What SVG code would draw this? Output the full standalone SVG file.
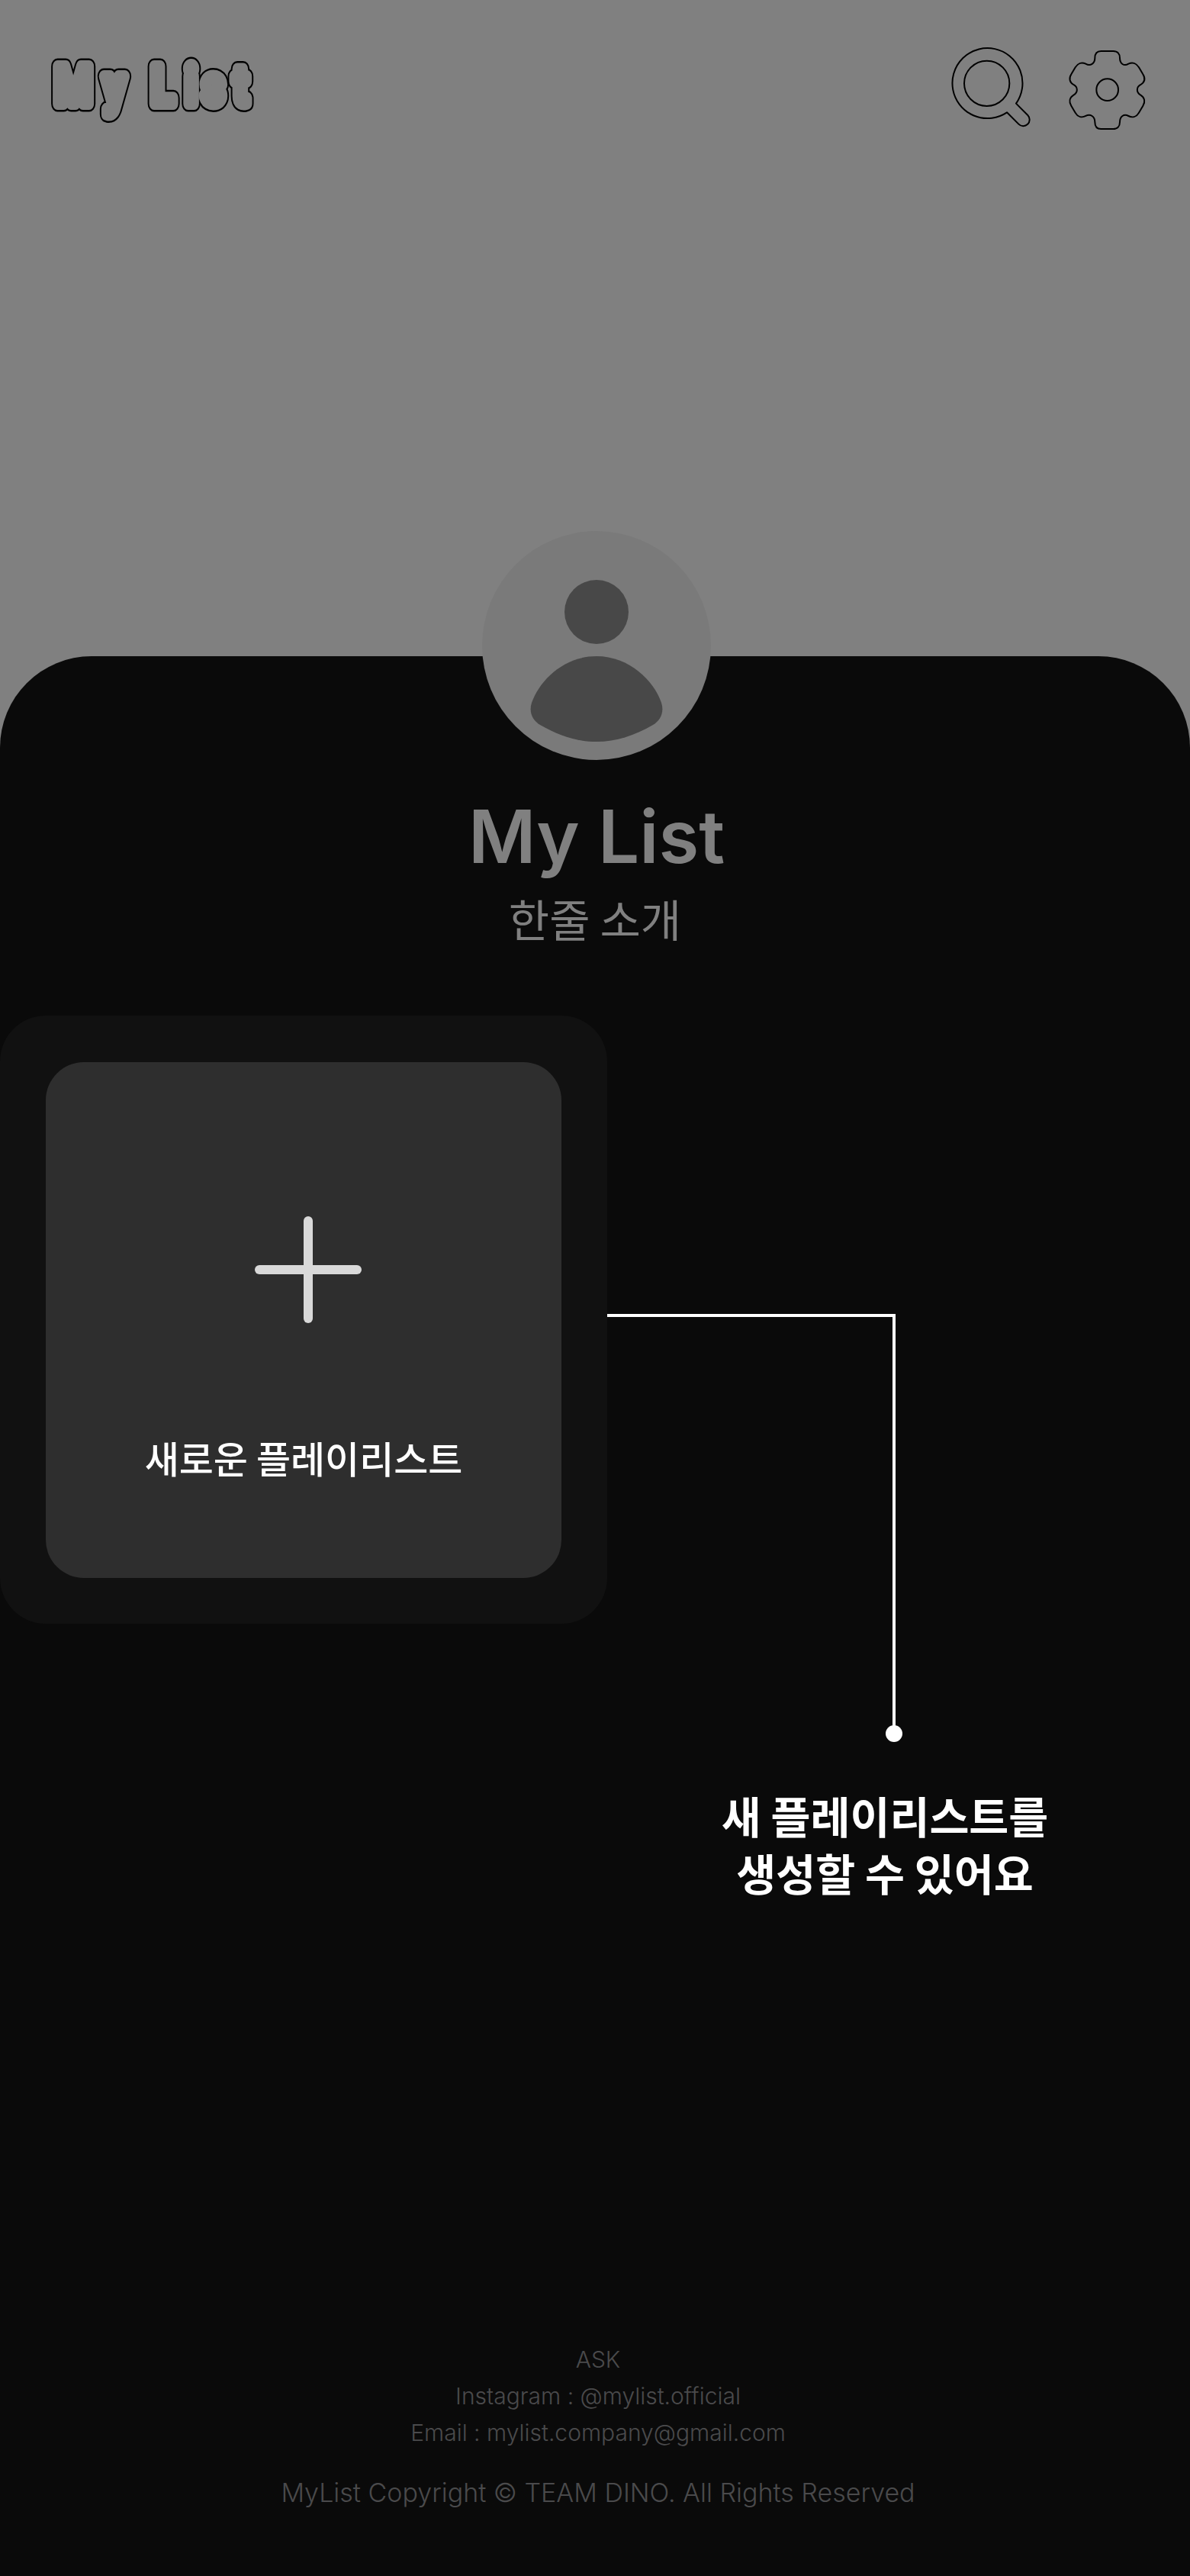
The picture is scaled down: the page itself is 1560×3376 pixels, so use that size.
<svg xmlns="http://www.w3.org/2000/svg" width="1560" height="3376" viewBox="0 0 1560 3376">
<style>
.t{font-family:Inter,"Noto Sans CJK KR",sans-serif;text-anchor:middle}
.k{font-family:"Noto Sans CJK KR",sans-serif;text-anchor:middle}
.f{font-family:Inter,sans-serif;font-weight:300;fill:#4a4a4c;text-anchor:middle}
.ico{fill:none;stroke:#000;stroke-width:6;stroke-linejoin:round}
.logo{font-family:Roboto,sans-serif;font-weight:700;font-size:69px;stroke-linejoin:round;stroke-linecap:round}
</style>
<defs>
<text id="logoText" class="logo" x="0 80 140 158 214 242 293" y="0">My List</text>
</defs>
<rect width="1560" height="3376" fill="#808080"/>
<g id="panel"><path d="M0 3376V980A120 120 0 0 1 120 860H1440A120 120 0 0 1 1560 980V3376Z" fill="#0a0a0a"/></g>
<g id="logo" transform="translate(72 136) scale(.8 1)">
<use href="#logoText" fill="#000" stroke="#000" stroke-width="21"/>
<use href="#logoText" fill="#808080" stroke="#808080" stroke-width="16"/>
</g>
<g id="search" transform="translate(1160 0) scale(.33333)">
<path class="ico" d="M516 407L562 453A25 25 0 0 1 526 488L480 442A138 138 0 1 1 516 407Z"/>
<circle class="ico" cx="401" cy="328" r="89"/>
</g>
<g id="settings" transform="translate(1160 0) scale(.33333)">
<path class="ico" d="M850 201H898C915 201 924 212 924 228C924 250 940 262 958 251C975 243 990 250 999 265L1015 292C1025 308 1022 323 1006 333C988 343 988 363 1006 374C1022 384 1025 400 1015 416L999 443C990 458 975 465 958 456C940 446 924 458 924 480C924 496 915 507 898 507H850C833 507 826 496 826 480C826 458 808 446 790 456C773 465 758 458 749 443L733 416C723 400 726 384 742 374C760 363 760 343 742 333C726 323 723 308 733 292L749 265C758 250 773 243 790 251C808 262 826 250 826 228C826 212 833 201 850 201Z"/>
<circle class="ico" cx="875" cy="353" r="43"/>
</g>
<g id="avatar">
<circle cx="782" cy="846" r="150" fill="#7a7a7a"/>
<ellipse cx="782" cy="802" rx="42" ry="42" fill="#484848"/>
<path d="M782 860C825 860 857 892 867 921C871 933 866 944 856 950C832 964 808 972 782 972C756 972 732 964 708 950C698 944 693 933 697 921C707 892 739 860 782 860Z" fill="#484848"/>
</g>
<g id="title">
<text class="t" x="782" y="1131" font-size="96" font-weight="600" fill="#808080">My List</text>
<text class="k" x="780" y="1228" font-size="58" fill="#808080">한줄 소개</text>
</g>
<g id="card">
<rect x="0" y="1331" width="796" height="797" rx="60" fill="#111"/>
<rect x="60" y="1392" width="676" height="676" rx="50" fill="#2e2e2e"/>
<rect x="398" y="1594" width="12" height="140" rx="6" fill="#d9d9d9"/>
<rect x="334" y="1658" width="140" height="12" rx="6" fill="#d9d9d9"/>
<text class="k" x="398" y="1931" font-size="49" font-weight="500" fill="#fff">새로운 플레이리스트</text>
</g>
<g id="connectors">
<path d="M796 1724H1172V2272" fill="none" stroke="#fff" stroke-width="4"/>
<circle cx="1172" cy="2272" r="11" fill="#fff"/>
</g>
<g id="callout">
<text class="k" x="1160" y="2403" font-size="56.5" font-weight="700" fill="#fff">새 플레이리스트를</text>
<text class="k" x="1160" y="2478" font-size="56.5" font-weight="700" fill="#fff">생성할 수 있어요</text>
</g>
<g id="footer">
<text class="f" x="784" y="3103" font-size="30">ASK</text>
<text class="f" x="784" y="3151" font-size="30">Instagram : @mylist.official</text>
<text class="f" x="784" y="3199" font-size="30">Email : mylist.company@gmail.com</text>
<text class="f" x="784" y="3279" font-size="34" font-weight="200">MyList Copyright © TEAM DINO. All Rights Reserved</text>
</g>
</svg>
